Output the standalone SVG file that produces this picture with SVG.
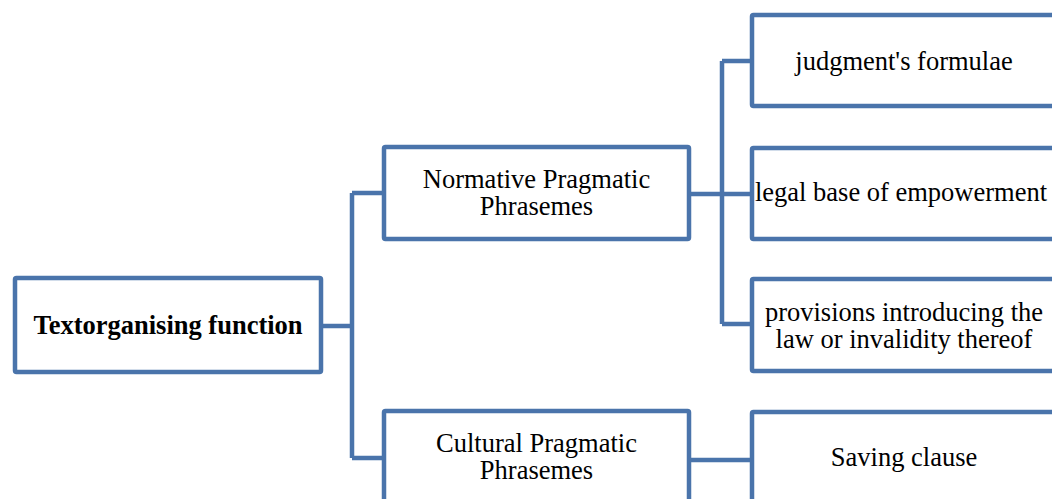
<svg xmlns="http://www.w3.org/2000/svg" width="1052" height="499" viewBox="0 0 1052 499">
  <style>
    .box { fill: #ffffff; stroke: #4a74ab; stroke-width: 4.5; stroke-linejoin: round; }
    .link { fill: none; stroke: #4a74ab; stroke-width: 4.5; stroke-linejoin: round; }
    .lbl { font-family: "Liberation Serif", "Times New Roman", serif; font-size: 26.5px; fill: #000000; text-anchor: middle; }
    .bold { font-weight: bold; }
  </style>

  <!-- connectors -->
  <g id="connectors">
    <path class="link" d="M321 326 H352 M352 193 V458 M352 193 H384 M352 458 H384"/>
    <path class="link" d="M689 194 H752 M722 61 V324 M722 61 H752 M722 324 H752"/>
    <path class="link" d="M689 460 H752"/>
  </g>

  <g id="root">
    <rect class="box" x="15" y="278" width="306" height="94" rx="1.5"/>
    <text class="lbl bold" x="168" y="334">Textorganising function</text>
  </g>

  <g id="normative">
    <rect class="box" x="384" y="147" width="305" height="92" rx="1.5"/>
    <text class="lbl" x="536.5" y="188">Normative Pragmatic</text>
    <text class="lbl" x="536.5" y="215">Phrasemes</text>
  </g>

  <g id="cultural">
    <rect class="box" x="384" y="411" width="305" height="92" rx="1.5"/>
    <text class="lbl" x="536.5" y="452">Cultural Pragmatic</text>
    <text class="lbl" x="536.5" y="479">Phrasemes</text>
  </g>

  <g id="judgment">
    <rect class="box" x="752" y="15" width="305" height="91" rx="1.5"/>
    <text class="lbl" x="904" y="70">judgment's formulae</text>
  </g>

  <g id="legal-base">
    <rect class="box" x="752" y="148" width="305" height="91" rx="1.5"/>
    <text class="lbl" x="901" y="201">legal base of empowerment</text>
  </g>

  <g id="provisions">
    <rect class="box" x="752" y="279" width="305" height="92" rx="1.5"/>
    <text class="lbl" x="904" y="321">provisions introducing the</text>
    <text class="lbl" x="904" y="348">law or invalidity thereof</text>
  </g>

  <g id="saving-clause">
    <rect class="box" x="752" y="412" width="305" height="92" rx="1.5"/>
    <text class="lbl" x="904" y="466">Saving clause</text>
  </g>
</svg>
